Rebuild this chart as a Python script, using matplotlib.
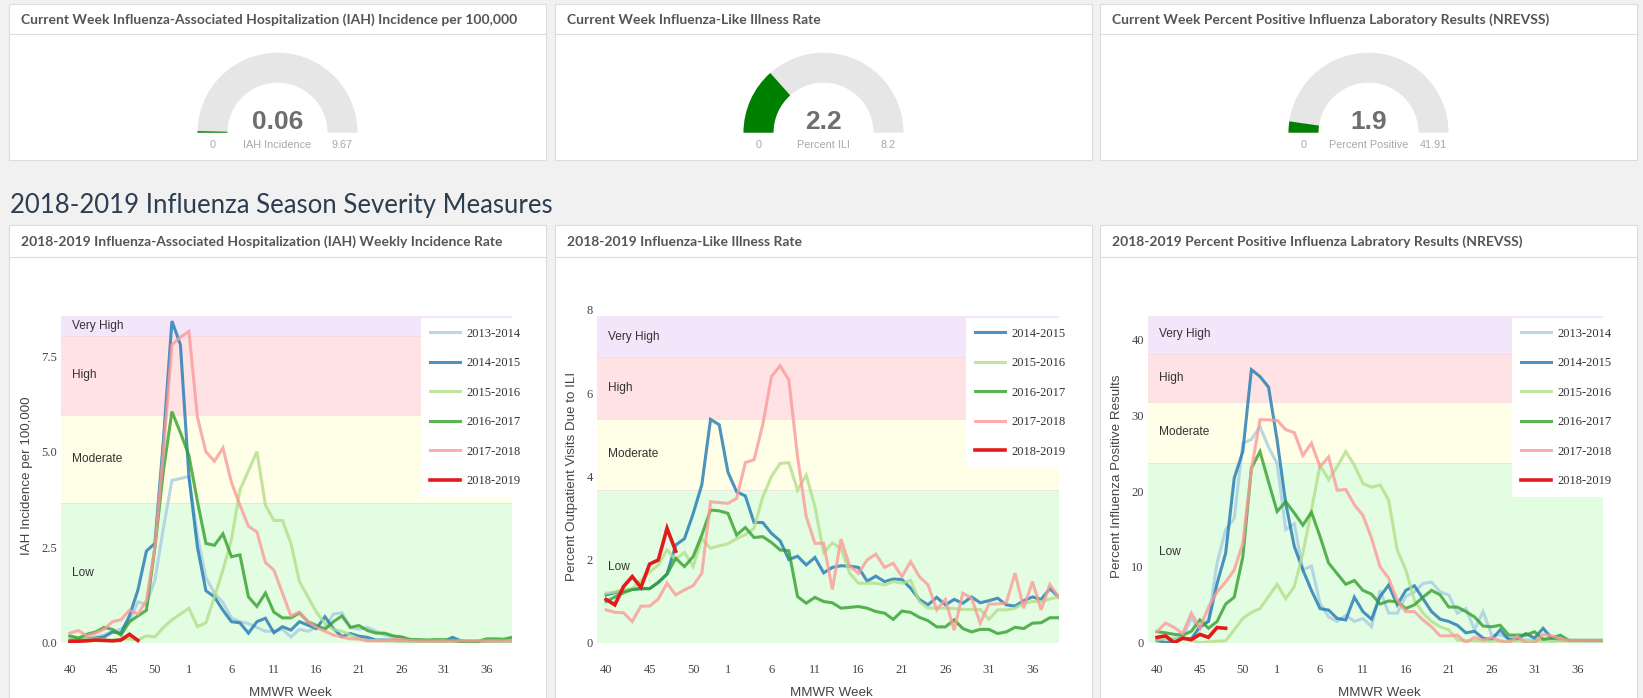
import matplotlib
matplotlib.use('Agg')
import matplotlib.pyplot as plt
from matplotlib.patches import Rectangle, Wedge
import numpy as np

# ---------------- data ----------------
weeks = list(range(40, 54)) + list(range(1, 40))
tick_weeks = [40, 45, 50, 1, 6, 11, 16, 21, 26, 31, 36]
seasons = ['2013-2014', '2014-2015', '2015-2016', '2016-2017', '2017-2018', '2018-2019']
season_colors = ['#a6cee3', '#1f78b4', '#b2df8a', '#33a02c', '#fb9a99', '#e31a1c']

gauge_titles = ['Current Week Influenza-Associated Hospitalization (IAH) Incidence per 100,000',
                'Current Week Influenza-Like Illness Rate',
                'Current Week Percent Positive Influenza Laboratory Results (NREVSS)']
gauge_values = [0.06, 2.2, 1.9]
gauge_max = [9.67, 8.2, 41.91]
gauge_labels = ['IAH Incidence', 'Percent ILI', 'Percent Positive']

chart_titles = ['2018-2019 Influenza-Associated Hospitalization (IAH) Weekly Incidence Rate',
                '2018-2019 Influenza-Like Illness Rate',
                '2018-2019 Percent Positive Influenza Labratory Results (NREVSS)']
y_titles = ['IAH Incidence per 100,000', 'Percent Outpatient Visits Due to ILI',
            'Percent Influenza Positive Results']
band_names = ['Low', 'Moderate', 'High', 'Very High']
band_colors = ['#e3fde2', '#fffee6', '#ffe2e4', '#f4e6fa']

# IAH incidence
iah_1314 = [0.05, 0.08, 0.12, 0.15, 0.2, 0.3, 0.35, 0.55, 1.07, 1.0, 1.64, 3.0, 4.25, 4.3, 4.35, 2.8, 1.7, 1.3,
            1.05, 0.65, 0.55, 0.5, 0.4, 0.3, 0.3, 0.35, 0.15, 0.35, 0.3, 0.4, 0.4, 0.75, 0.78, 0.4, 0.35, 0.4,
            0.3, 0.2, 0.15, 0.15, 0.1, 0.05, 0.03, 0.02, 0.02, 0.02, 0.02, 0.02, 0.02, 0.02, 0.02, 0.02, 0.02]
iah_1415 = [0.07, 0.08, 0.1, 0.12, 0.15, 0.28, 0.25, 0.7, 1.38, 2.4, 2.6, 5.3, 8.42, 7.8, 4.35, 2.5, 1.36, 1.2,
            0.85, 0.55, 0.52, 0.25, 0.55, 0.64, 0.26, 0.42, 0.33, 0.55, 0.46, 0.37, 0.68, 0.37, 0.16, 0.24, 0.17,
            0.14, 0.07, 0.07, 0.06, 0.05, 0.05, 0.04, 0.05, 0.04, 0.03, 0.14, 0.05, 0.03, 0.04, 0.03, 0.03, 0.04, 0.05]
iah_1516 = [0.15, 0.12, 0.1, 0.1, 0.08, 0.05, 0.1, 0.1, 0.07, 0.18, 0.15, 0.4, 0.6, 0.75, 0.9, 0.42, 0.52, 1.2,
            1.9, 2.7, 4.0, 4.5, 5.0, 3.6, 3.2, 3.2, 2.6, 1.6, 1.2, 0.8, 0.5, 0.35, 0.3, 0.2, 0.1, 0.05, 0.06,
            0.05, 0.04, 0.03, 0.03, 0.03, 0.03, 0.03, 0.03, 0.03, 0.03, 0.03, 0.03, 0.03, 0.03, 0.03, 0.03]
iah_1617 = [0.18, 0.12, 0.22, 0.28, 0.4, 0.35, 0.2, 0.55, 0.7, 0.85, 2.5, 4.5, 6.05, 5.5, 4.9, 3.7, 2.6, 2.55,
            2.85, 2.25, 2.3, 1.2, 0.95, 1.3, 0.8, 0.65, 0.65, 0.78, 0.55, 0.45, 0.35, 0.55, 0.7, 0.4, 0.45, 0.32,
            0.25, 0.25, 0.18, 0.15, 0.08, 0.08, 0.07, 0.08, 0.08, 0.06, 0.03, 0.04, 0.03, 0.1, 0.1, 0.09, 0.14]
iah_1718 = [0.25, 0.32, 0.18, 0.25, 0.35, 0.55, 0.6, 0.85, 0.75, 1.1, 2.5, 5.0, 7.8, 8.0, 8.15, 5.9, 5.0, 4.75,
            5.1, 4.2, 3.6, 3.05, 2.9, 2.1, 1.9, 1.3, 0.7, 0.8, 0.55, 0.4, 0.3, 0.2, 0.15, 0.1, 0.1, 0.05, 0.05,
            0.05, 0.08, 0.08, 0.06, 0.05, 0.05, 0.05, 0.05, 0.05, 0.05, 0.05, 0.05, 0.05, 0.05, 0.05, 0.06]
iah_1819 = [0.02, 0.04, 0.05, 0.07, 0.06, 0.05, 0.07, 0.22, 0.06]

# ILI percent
ili_1415 = [1.15, 1.2, 1.25, 1.28, 1.3, 1.3, 1.45, 1.65, 2.35, 2.5, 3.1, 3.8, 5.37, 5.24, 4.1, 3.63, 3.53, 2.89,
            2.89, 2.63, 2.45, 2.0, 2.08, 1.87, 2.05, 1.68, 1.81, 1.85, 1.84, 1.81, 1.48, 1.6, 1.47, 1.53, 1.52,
            1.31, 1.04, 0.91, 1.09, 0.91, 1.04, 0.95, 1.1, 0.96, 1.01, 1.07, 0.91, 0.88, 1.01, 1.1, 1.04, 1.3, 1.1]
ili_1516 = [1.19, 1.22, 1.28, 1.3, 1.5, 1.7, 1.87, 2.23, 2.0, 2.17, 1.83, 2.5, 2.27, 2.33, 2.38, 2.5, 2.6, 2.75,
            3.5, 4.0, 4.31, 4.33, 3.67, 4.03, 3.27, 2.17, 2.4, 2.27, 1.67, 1.43, 1.43, 1.43, 1.39, 1.47, 1.43, 1.5,
            0.99, 0.83, 0.83, 0.83, 0.82, 0.8, 0.8, 0.8, 0.56, 0.79, 0.79, 0.83, 0.95, 0.99, 0.99, 1.05, 1.1]
ili_1617 = [0.99, 1.1, 1.2, 1.28, 1.3, 1.3, 1.45, 1.65, 2.03, 1.83, 2.07, 2.59, 3.19, 3.17, 3.11, 2.59, 2.77,
            2.53, 2.55, 2.41, 2.23, 2.21, 1.11, 0.95, 1.09, 0.99, 0.96, 0.83, 0.85, 0.87, 0.83, 0.75, 0.71, 0.56,
            0.76, 0.73, 0.61, 0.53, 0.38, 0.38, 0.55, 0.34, 0.26, 0.32, 0.32, 0.22, 0.26, 0.37, 0.34, 0.47, 0.48,
            0.6, 0.6]
ili_1718 = [0.79, 0.73, 0.72, 0.51, 0.88, 0.88, 1.05, 1.43, 1.15, 1.27, 1.37, 1.67, 3.39, 3.37, 3.35, 3.47,
            4.33, 4.4, 5.24, 6.4, 6.66, 6.32, 4.47, 3.03, 2.39, 2.39, 1.28, 2.49, 1.84, 1.67, 1.99, 2.13, 1.81,
            1.91, 1.59, 1.95, 1.59, 1.39, 0.79, 1.04, 0.3, 1.19, 1.07, 0.47, 0.93, 0.93, 0.96, 1.67, 0.83, 1.47,
            0.79, 1.4, 1.1]
ili_1819 = [1.04, 0.91, 1.35, 1.59, 1.33, 1.89, 1.99, 2.75, 2.2]

# percent positive (NREVSS)
pp_1314 = [0.13, 0.5, 0.6, 0.8, 3.2, 1.8, 3.0, 10.5, 14.9, 16.4, 26.3, 26.8, 28.5, 25.8, 23.6, 14.9, 15.7, 9.6,
           10.1, 5.2, 3.4, 2.8, 3.6, 2.8, 3.2, 2.1, 6.9, 3.9, 3.9, 6.1, 6.7, 7.8, 8.0, 6.7, 6.3, 3.9, 4.5, 1.7,
           4.1, 1.0, 1.0, 0.6, 0.5, 0.4, 0.3, 0.5, 0.2, 0.4, 0.3, 0.3, 0.2, 0.2, 0.2]
pp_1415 = [0.35, 0.0, 0.3, 0.6, 0.5, 2.1, 2.8, 7.8, 11.8, 21.7, 25.2, 36.0, 35.1, 33.7, 26.7, 18.4, 12.7, 9.6,
           6.9, 4.5, 4.3, 3.2, 3.0, 6.0, 4.1, 3.1, 6.1, 7.6, 5.0, 6.9, 7.5, 5.8, 4.1, 3.1, 2.8, 2.3, 1.3, 1.5,
           0.6, 0.4, 1.7, 0.4, 0.5, 1.2, 0.6, 1.9, 0.6, 0.4, 0.3, 0.3, 0.3, 0.3, 0.3]
pp_1516 = [0.4, 0.5, 0.4, 0.5, 0.3, 0.0, 0.1, 0.2, 0.25, 1.7, 3.2, 4.0, 4.5, 6.1, 7.7, 5.8, 7.4, 11.8, 17.5,
           23.4, 21.5, 23.2, 25.2, 23.4, 21.0, 20.5, 20.8, 18.8, 12.2, 9.6, 5.6, 3.9, 2.8, 2.1, 1.7, 0.35, 0.3,
           0.25, 0.2, 0.2, 0.2, 0.2, 0.2, 0.2, 0.2, 0.2, 0.2, 0.2, 0.2, 0.2, 0.2, 0.2, 0.2]
pp_1617 = [1.45, 1.3, 1.1, 1.0, 1.5, 3.0, 1.9, 2.8, 5.1, 6.0, 11.3, 23.0, 25.2, 21.2, 17.3, 18.6, 17.1, 15.5,
           17.2, 14.0, 10.5, 9.1, 7.7, 8.2, 6.9, 6.4, 5.1, 5.5, 5.4, 4.5, 5.0, 6.0, 6.9, 6.3, 4.7, 4.7, 4.1, 3.4,
           2.2, 2.1, 2.3, 1.0, 1.0, 1.0, 1.45, 0.45, 0.6, 1.0, 0.3, 0.3, 0.3, 0.3, 0.3]
pp_1718 = [1.45, 2.6, 2.0, 1.2, 3.9, 1.9, 4.7, 6.7, 8.0, 9.6, 13.1, 22.8, 29.4, 29.4, 29.3, 28.1, 27.7, 24.7,
           26.3, 23.2, 24.5, 20.1, 20.2, 18.2, 16.8, 13.8, 10.0, 8.5, 5.6, 4.1, 4.1, 3.0, 2.1, 0.9, 0.9, 1.0, 0.0,
           0.7, 0.35, 0.7, 0.25, 0.0, 0.8, 0.0, 0.0, 1.1, 0.9, 0.5, 0.3, 0.3, 0.3, 0.3, 0.3]
pp_1819 = [0.7, 0.9, 0.0, 0.6, 0.4, 1.1, 0.7, 2.0, 1.9]

chart_series = [
    [iah_1314, iah_1415, iah_1516, iah_1617, iah_1718, iah_1819],
    [None, ili_1415, ili_1516, ili_1617, ili_1718, ili_1819],
    [pp_1314, pp_1415, pp_1516, pp_1617, pp_1718, pp_1819],
]
band_edges = [[0, 3.66, 5.97, 8.04, 8.56],
              [0, 3.66, 5.39, 6.86, 7.86],
              [0, 23.7, 31.8, 38.1, 43.1]]
band_label_y = [[1.83, 4.8, 7.0, 8.3],
                [1.83, 4.53, 6.13, 7.36],
                [11.9, 27.8, 34.9, 40.7]]
y_ticks = [[0, 2.5, 5, 7.5], [0, 2, 4, 6, 8], [0, 10, 20, 30, 40]]
y_tick_labels = [['0.0', '2.5', '5.0', '7.5'], ['0', '2', '4', '6', '8'], ['0', '10', '20', '30', '40']]
y_top = [8.71, 8.0, 43.87]

# ---------------- layout (pixels) ----------------
W, H = 1643, 698
fig = plt.figure(figsize=(W / 100, H / 100), dpi=100)
fig.patch.set_facecolor('#f1f1f1')

bg = fig.add_axes([0, 0, 1, 1])
bg.set_xlim(0, W)
bg.set_ylim(H, 0)
bg.axis('off')

panels_x = [(9, 546), (555, 1092), (1100, 1637)]
header_font = dict(family='Lato', fontsize=10, fontweight='bold', color='#555555')

# top gauge panels
for i, (x0, x1) in enumerate(panels_x):
    bg.add_patch(Rectangle((x0, 4), x1 - x0, 156, facecolor='white', edgecolor='#dcdcdc', lw=0.8))
    bg.plot([x0, x1], [34, 34], color='#dcdcdc', lw=0.8)
    bg.text(x0 + 12, 19.5, gauge_titles[i], va='center', ha='left', **header_font)

    cx, cy = (x0 + x1) / 2, 132.7
    frac = gauge_values[i] / gauge_max[i]
    bg.add_patch(Wedge((cx, cy), 80, 180, 360, width=30, facecolor='#e6e6e6', edgecolor='none'))
    bg.add_patch(Wedge((cx, cy), 80, 180, 180 + 180 * frac, width=30, facecolor='#008000', edgecolor='none'))
    bg.text(cx, cy - 11, str(gauge_values[i]), ha='center', va='center', family='Liberation Sans',
            fontsize=19, fontweight='bold', color='#6e6e6e')
    lab = dict(ha='center', va='center', family='Liberation Sans', fontsize=7.8, color='#a8a8a8')
    bg.text(cx - 65, 144.5, '0', **lab)
    bg.text(cx, 144.5, gauge_labels[i], **lab)
    bg.text(cx + 65, 144.5, str(gauge_max[i]), **lab)

bg.text(10, 205, '2018-2019 Influenza Season Severity Measures', ha='left', va='center',
        family='Lato', fontsize=18.5, color='#2c3e50')

# bottom chart panels
for i, (x0, x1) in enumerate(panels_x):
    bg.add_patch(Rectangle((x0, 225), x1 - x0, 500, facecolor='white', edgecolor='#dcdcdc', lw=0.8))
    bg.plot([x0, x1], [256.7, 256.7], color='#dcdcdc', lw=0.8)
    bg.text(x0 + 12, 242, chart_titles[i], va='center', ha='left', **header_font)

# chart axes positions (pixels)
ax_x0 = [61, 597, 1148]
ax_px_per_week = [8.5, 8.7, 8.58]
ylabel_x = [27, 572, 1117]
legend_left = [421, 966, 1512]
y_top_px, y_bot_px = 310, 642.7
x_lo, x_hi = -1.05, 52

xs = np.arange(len(weeks))
tick_pos = [weeks.index(w) for w in tick_weeks]

for i in range(3):
    w_px = (x_hi - x_lo) * ax_px_per_week[i]
    ax = fig.add_axes([ax_x0[i] / W, 1 - y_bot_px / H, w_px / W, (y_bot_px - y_top_px) / H])
    ax.set_facecolor('none')
    for s in ax.spines.values():
        s.set_visible(False)
    ax.set_xlim(x_lo, x_hi)
    ax.set_ylim(0, y_top[i])

    edges = band_edges[i]
    for b in range(4):
        ax.axhspan(edges[b], edges[b + 1], color=band_colors[b], lw=0, zorder=0)
        ax.text(0.024, band_label_y[i][b], band_names[b], transform=ax.get_yaxis_transform(),
                ha='left', va='center', family='Liberation Sans', fontsize=8.6, color='#333333', zorder=1)
    for e in edges[1:-1]:
        ax.axhline(e, color='#f3d6e2', lw=0.5, zorder=0.5)

    handles = []
    for k, vals in enumerate(chart_series[i]):
        if vals is None:
            continue
        current = seasons[k] == '2018-2019'
        ln, = ax.plot(xs[:len(vals)], vals, color=season_colors[k], lw=2.6 if current else 2.2,
                      alpha=1.0 if current else 0.8, zorder=3 if current else 2,
                      solid_joinstyle='miter', label=seasons[k])
        handles.append(ln)

    ax.set_yticks(y_ticks[i])
    ax.set_yticklabels(y_tick_labels[i])
    ax.set_xticks(tick_pos)
    ax.set_xticklabels(tick_weeks)
    ax.tick_params(length=0, labelsize=9, labelcolor='#444444')
    ax.tick_params(axis='y', pad=3)
    ax.tick_params(axis='x', pad=15)
    for t in ax.get_xticklabels() + ax.get_yticklabels():
        t.set_family('Liberation Serif')

    leg = ax.legend(handles=handles, loc='upper left',
                    bbox_to_anchor=((legend_left[i] - ax_x0[i]) / w_px, 1 - (318.3 - y_top_px) / (y_bot_px - y_top_px)),
                    frameon=True, fancybox=False, framealpha=1, facecolor='white', edgecolor='none',
                    borderpad=0.75, handlelength=2.4, handletextpad=0.45, labelspacing=1.4,
                    prop={'family': 'Liberation Serif', 'size': 9}, borderaxespad=0)
    leg.set_zorder(5)
    for t in leg.get_texts():
        t.set_color('#333333')

    bg.text(ylabel_x[i], 476, y_titles[i], rotation=90, ha='center', va='center',
            family='Liberation Sans', fontsize=9.6, color='#444444')
    bg.text(ax_x0[i] + w_px / 2 + 4, 693, 'MMWR Week', ha='center', va='center',
            family='Liberation Sans', fontsize=9.6, color='#444444')

fig.savefig('out.png', dpi=100, facecolor=fig.get_facecolor())
